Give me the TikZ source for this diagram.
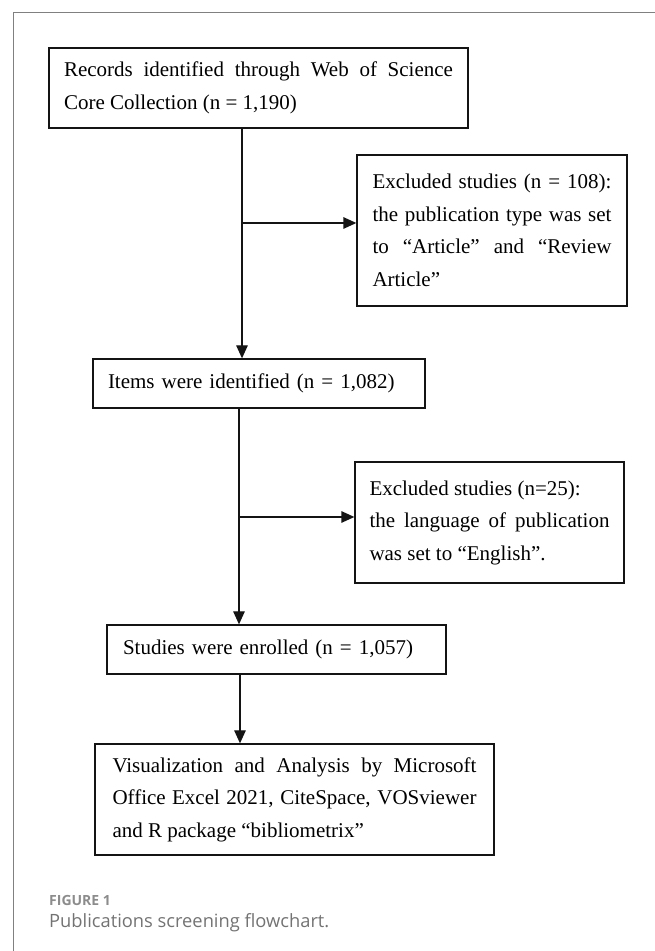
\documentclass[tikz,border=0pt]{standalone}
\usepackage{fontspec}
\setmainfont{Liberation Serif}
\newfontfamily\capfont{Open Sans}
\usetikzlibrary{arrows.meta,calc,positioning}

\begin{document}
\begin{tikzpicture}[x=1pt,y=1pt, every node/.style={inner sep=0pt},
  box/.style={draw=bc, line width=1.3pt, anchor=center, inner sep=0pt, font=\fontsize{21}{32.5}\selectfont},
  arr/.style={draw=bc, line width=1.3pt, -{Triangle[length=13pt,width=11.5pt]}}]
\definecolor{bc}{HTML}{141414}\definecolor{fc}{HTML}{808080}
\definecolor{c1}{HTML}{8C8C8C}\definecolor{c2}{HTML}{737373}
\useasboundingbox (0pt,0pt) rectangle (655pt,951pt);
% frame
\draw[draw=fc, line width=0.9pt] (13.5pt,0pt) -- (13.5pt,938.7pt) -- (655pt,938.7pt);
% boxes
\node[box, minimum width=419pt, minimum height=80pt, text width=389pt, align=justify] (rec) at (258.5pt,863pt) {\hyphenpenalty=10000\relax Records identified through Web of Science\linebreak Core Collection (n = 1,190)};
\node[box, minimum width=270pt, minimum height=151pt, text width=239pt, align=justify] (ex1) at (492pt,720.5pt) {\hyphenpenalty=10000\relax Excluded studies (n = 108):\linebreak the publication type was set\linebreak to “Article” and “Review\linebreak Article”};
\node[box, minimum width=332pt, minimum height=49pt, text width=302pt, align=left] (items) at (259pt,567.5pt) {Items were identified (n = 1,082)};
\node[box, minimum width=269pt, minimum height=121pt, text width=240pt, align=justify] (ex2) at (489.5pt,428.5pt) {\hyphenpenalty=10000\relax Excluded studies (n=25):\newline the language of publication\linebreak was set to “English”.};
\node[box, minimum width=339pt, minimum height=49pt, text width=307pt, align=left] (stud) at (276.5pt,301.5pt) {Studies were enrolled (n = 1,057)};
\node[box, minimum width=399pt, minimum height=111pt, text width=364pt, align=justify] (vis) at (294.5pt,151.5pt) {\hyphenpenalty=10000\relax Visualization and Analysis by Microsoft\linebreak Office Excel 2021, CiteSpace, VOSviewer\linebreak and R package “bibliometrix”};
% connectors
\coordinate (s1) at (242pt,0pt);
\coordinate (s2) at (239pt,0pt);
\coordinate (s3) at (240pt,0pt);
\coordinate (j1) at (242pt,728pt);
\coordinate (j2) at (239pt,434pt);
\draw[arr] (rec.south -| s1) -- (items.north -| s1);
\draw[arr] (j1) -- (j1 -| ex1.west);
\draw[arr] (items.south -| s2) -- (stud.north -| s2);
\draw[arr] (j2) -- (j2 -| ex2.west);
\draw[arr] (stud.south -| s3) -- (vis.north -| s3);
% caption
\node[anchor=west, font=\capfont\bfseries\fontsize{14}{16}\selectfont, text=c1] (fig) at (49pt,51pt) {FIGURE 1};
\node[anchor=west, font=\capfont\fontsize{18.3}{22}\selectfont, text=c2] (cap) at (49pt,28pt) {Publications screening flowchart.};
\end{tikzpicture}
\end{document}
